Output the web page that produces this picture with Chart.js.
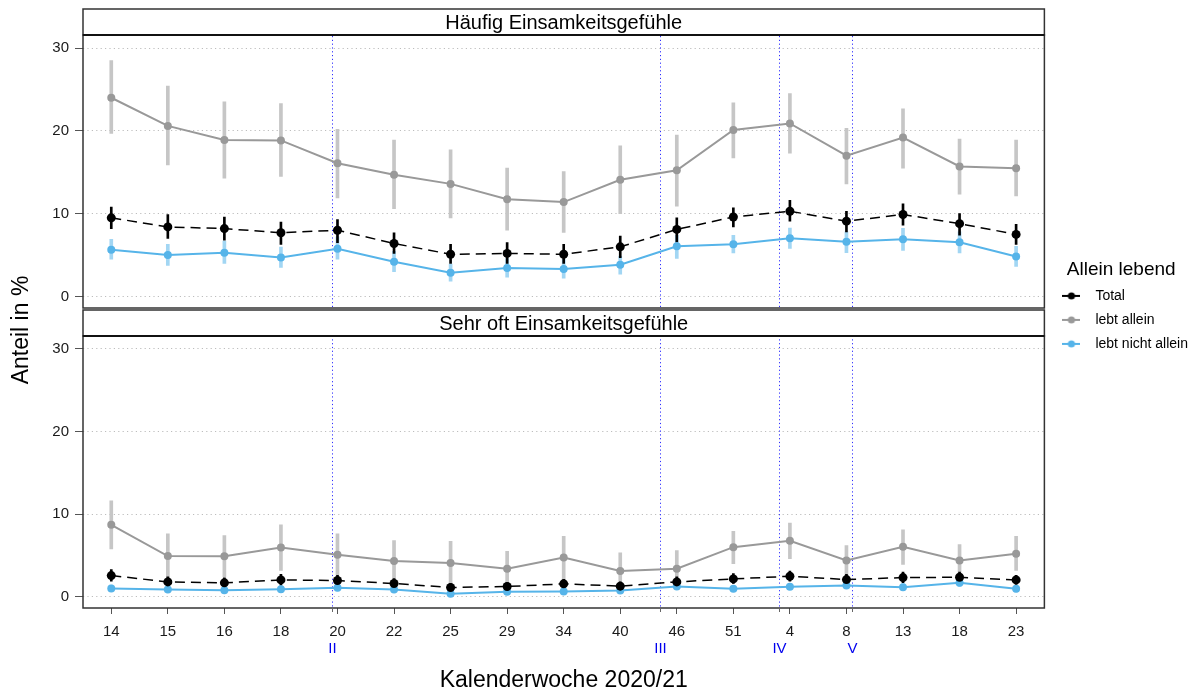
<!DOCTYPE html>
<html><head><meta charset="utf-8">
<script src="https://cdn.jsdelivr.net/npm/chart.js@4.4.1/dist/chart.umd.min.js"></script>
<style>html,body{margin:0;padding:0;background:#fff;} #wrap{position:relative;width:1201px;height:693px;}</style>
</head><body><div id="wrap"><canvas id="c" width="1201" height="693"></canvas></div>
<script>
const weeks = ['14','15','16','18','20','22','25','29','34','40','46','51','4','8','13','18','23'];
const phaseLabels = ['II','III','IV','V'];
const phasePositions = [3.91, 9.71, 11.81, 13.10];
const panelTitles = ['Häufig Einsamkeitsgefühle', 'Sehr oft Einsamkeitsgefühle'];
const seriesNames = ['Total', 'lebt allein', 'lebt nicht allein'];
const yTicks = [0, 10, 20, 30];

// Panel 1: Häufig Einsamkeitsgefühle
const oftTotal   = [9.5, 8.4, 8.2, 7.7, 8.0, 6.4, 5.1, 5.2, 5.1, 6.0, 8.1, 9.6, 10.3, 9.1, 9.9, 8.8, 7.5];
const oftTotalLo = [8.2, 7.0, 6.8, 6.3, 6.5, 5.2, 4.0, 4.0, 4.0, 4.7, 6.6, 8.4, 9.1, 7.8, 8.6, 7.4, 6.3];
const oftTotalHi = [10.8, 9.9, 9.6, 9.0, 9.3, 7.7, 6.3, 6.5, 6.3, 7.3, 9.5, 10.7, 11.6, 10.3, 11.2, 10.0, 8.7];
const oftAllein   = [24.0, 20.6, 18.9, 18.85, 16.1, 14.7, 13.6, 11.75, 11.4, 14.1, 15.25, 20.1, 20.9, 17.0, 19.2, 15.7, 15.5];
const oftAlleinLo = [19.7, 15.9, 14.3, 14.5, 11.9, 10.6, 9.5, 8.0, 7.75, 10.0, 10.9, 16.75, 17.3, 13.6, 15.5, 12.35, 12.15];
const oftAlleinHi = [28.5, 25.4, 23.5, 23.3, 20.2, 18.9, 17.7, 15.5, 15.1, 18.2, 19.5, 23.4, 24.5, 20.3, 22.65, 19.0, 18.9];
const oftNicht   = [5.65, 5.0, 5.28, 4.72, 5.77, 4.2, 2.87, 3.43, 3.31, 3.83, 6.06, 6.3, 7.03, 6.62, 6.9, 6.54, 4.84];
const oftNichtLo = [4.5, 3.75, 4.0, 3.5, 4.5, 3.0, 1.85, 2.34, 2.2, 2.7, 4.6, 5.25, 5.8, 5.3, 5.57, 5.25, 3.63];
const oftNichtHi = [6.9, 6.3, 6.7, 5.97, 7.2, 5.45, 3.9, 4.57, 4.5, 4.85, 7.4, 7.4, 8.27, 7.8, 8.24, 7.8, 6.06];

// Panel 2: Sehr oft Einsamkeitsgefühle
const sehrTotal   = [2.56, 1.8, 1.68, 2.04, 1.96, 1.6, 1.12, 1.24, 1.56, 1.28, 1.8, 2.16, 2.48, 2.08, 2.32, 2.36, 2.04];
const sehrTotalLo = [1.9, 1.2, 1.1, 1.4, 1.4, 1.1, 0.7, 0.8, 1.0, 0.8, 1.2, 1.6, 1.9, 1.5, 1.7, 1.8, 1.5];
const sehrTotalHi = [3.3, 2.4, 2.3, 2.7, 2.6, 2.2, 1.6, 1.7, 2.1, 1.8, 2.4, 2.8, 3.1, 2.7, 3.0, 3.0, 2.6];
const sehrAllein   = [8.7, 4.92, 4.9, 5.96, 5.08, 4.32, 4.08, 3.4, 4.76, 3.12, 3.4, 6.0, 6.76, 4.4, 6.04, 4.4, 5.2];
const sehrAlleinLo = [5.8, 2.3, 2.4, 3.2, 2.6, 1.9, 1.5, 1.3, 2.2, 0.9, 1.2, 4.0, 4.6, 2.6, 3.9, 2.5, 3.2];
const sehrAlleinHi = [11.6, 7.6, 7.4, 8.7, 7.6, 6.8, 6.7, 5.5, 7.3, 5.3, 5.6, 7.9, 8.9, 6.2, 8.1, 6.3, 7.3];
const sehrNicht   = [1.0, 0.88, 0.8, 0.92, 1.08, 0.88, 0.36, 0.6, 0.64, 0.76, 1.24, 0.96, 1.2, 1.36, 1.16, 1.68, 0.96];
const sehrNichtLo = [0.65, 0.55, 0.5, 0.6, 0.7, 0.55, 0.15, 0.35, 0.35, 0.45, 0.85, 0.65, 0.85, 1.0, 0.8, 1.25, 0.6];
const sehrNichtHi = [1.4, 1.25, 1.15, 1.3, 1.5, 1.25, 0.6, 0.9, 0.95, 1.1, 1.65, 1.3, 1.6, 1.75, 1.55, 2.15, 1.35];

const FONT = "'Liberation Sans', Arial, sans-serif";
const colTotal = '#000000', colAllein = '#999999', colNicht = '#56B4E9';
const seriesColors = [colTotal, colAllein, colNicht];
const STRIP = 26;

function pairs(lo, hi) { return lo.map((v, i) => [v, hi[i]]); }

function lineDs(label, data, color, axis, dash, order, r) {
  return { type: 'line', label, data, yAxisID: axis, borderColor: color, backgroundColor: color,
    borderWidth: dash ? 1.5 : 2, borderDash: dash || [], pointRadius: r, pointBackgroundColor: color,
    pointBorderWidth: 0, tension: 0, order };
}
function barDs(label, lo, hi, color, axis, thick, order) {
  return { type: 'bar', label, data: pairs(lo, hi), yAxisID: axis, backgroundColor: color,
    borderWidth: 0, barThickness: thick, grouped: false, order };
}

function makeIcon(color) {
  const cv = document.createElement('canvas'); cv.width = 18; cv.height = 10;
  const g = cv.getContext('2d');
  g.strokeStyle = color; g.lineWidth = 2; g.beginPath(); g.moveTo(0, 5); g.lineTo(18, 5); g.stroke();
  g.fillStyle = color; g.beginPath(); g.arc(9, 5, 3.6, 0, Math.PI * 2); g.fill();
  return cv;
}
const icons = seriesColors.map(makeIcon);

const panelPlugin = {
  id: 'panels',
  beforeDatasetsDraw(chart) {
    const ctx = chart.ctx, x = chart.scales.x;
    ['yTop', 'yBottom'].forEach(id => {
      const s = chart.scales[id];
      ctx.save(); ctx.strokeStyle = '#3030ff'; ctx.lineWidth = 1; ctx.setLineDash([1.2, 2.6]);
      phasePositions.forEach(p => {
        const px = Math.round(x.getPixelForValue(p)) + 0.5;
        ctx.beginPath(); ctx.moveTo(px, s.top + STRIP + 1); ctx.lineTo(px, s.bottom); ctx.stroke();
      });
      ctx.restore();
    });
  },
  afterDraw(chart) {
    const ctx = chart.ctx, ca = chart.chartArea, x = chart.scales.x;
    ['yTop', 'yBottom'].forEach((id, k) => {
      const s = chart.scales[id];
      const t = Math.round(s.top) + (k === 1 ? 1 : 0);
      ctx.save();
      ctx.fillStyle = '#fff'; ctx.fillRect(ca.left, t, ca.right - ca.left, STRIP);
      ctx.strokeStyle = '#333'; ctx.lineWidth = 1.5;
      ctx.strokeRect(ca.left, t, ca.right - ca.left, STRIP);
      ctx.strokeRect(ca.left, t + STRIP, ca.right - ca.left, Math.round(s.bottom) - (k === 0 ? 1 : 0) - t - STRIP);
      ctx.strokeStyle = '#111'; ctx.lineWidth = 2.2;
      ctx.beginPath(); ctx.moveTo(ca.left, t + STRIP); ctx.lineTo(ca.right, t + STRIP); ctx.stroke();
      ctx.fillStyle = '#000'; ctx.font = '20px ' + FONT; ctx.textAlign = 'center'; ctx.textBaseline = 'middle';
      ctx.fillText(panelTitles[k], (ca.left + ca.right) / 2, t + STRIP / 2 + 1);
      ctx.restore();
    });
    ctx.save();
    ctx.strokeStyle = '#666'; ctx.lineWidth = 1;
    phasePositions.forEach((p, i) => {
      const px = Math.round(x.getPixelForValue(p)) + 0.5;
      ctx.beginPath(); ctx.moveTo(px, ca.bottom); ctx.lineTo(px, ca.bottom + 4); ctx.stroke();
      ctx.fillStyle = '#0000ee'; ctx.font = '15px ' + FONT; ctx.textAlign = 'center'; ctx.textBaseline = 'middle';
      ctx.fillText(phaseLabels[i], px, ca.bottom + 41);
    });
    ctx.translate(22, 330); ctx.rotate(-Math.PI / 2);
    ctx.fillStyle = '#000'; ctx.font = '23px ' + FONT; ctx.textAlign = 'center'; ctx.textBaseline = 'middle';
    ctx.fillText('Anteil in %', 0, 0);
    ctx.restore();
  }
};

function yScale(min, max, weight) {
  return {
    type: 'linear', position: 'left', stack: 'panels', stackWeight: 1, weight,
    min, max,
    afterBuildTicks: s => { s.ticks = yTicks.map(v => ({ value: v })); },
    afterFit: s => { s.width = 83; s.paddingTop = 0; s.paddingBottom = 0; },
    border: { display: false, dash: [1.2, 3.2] },
    grid: { color: '#bdbdbd', lineWidth: 1, tickLength: 8, tickColor: '#555',
      tickWidth: 1, tickBorderDash: [] },
    ticks: { font: { size: 15, family: FONT }, color: '#1a1a1a', padding: 6 }
  };
}

new Chart(document.getElementById('c'), {
  type: 'line',
  data: {
    labels: weeks,
    datasets: [
      lineDs('Total', oftTotal, colTotal, 'yTop', [10, 6], 0, 4.5),
      lineDs('lebt nicht allein', oftNicht, colNicht, 'yTop', null, 1, 4),
      lineDs('lebt allein', oftAllein, colAllein, 'yTop', null, 2, 4),
      barDs('ci', oftTotalLo, oftTotalHi, '#000', 'yTop', 2, 3),
      barDs('ci', oftNichtLo, oftNichtHi, 'rgba(86,180,233,0.55)', 'yTop', 3, 4),
      barDs('ci', oftAlleinLo, oftAlleinHi, '#c6c6c6', 'yTop', 3, 5),
      lineDs('Total', sehrTotal, colTotal, 'yBottom', [10, 6], 0, 4.5),
      lineDs('lebt nicht allein', sehrNicht, colNicht, 'yBottom', null, 1, 4),
      lineDs('lebt allein', sehrAllein, colAllein, 'yBottom', null, 2, 4),
      barDs('ci', sehrTotalLo, sehrTotalHi, '#000', 'yBottom', 2, 3),
      barDs('ci', sehrNichtLo, sehrNichtHi, 'rgba(86,180,233,0.55)', 'yBottom', 3, 4),
      barDs('ci', sehrAlleinLo, sehrAlleinHi, '#c6c6c6', 'yBottom', 3, 5)
    ]
  },
  options: {
    responsive: false, animation: false, events: [],
    layout: { padding: { top: 9, right: 3, bottom: 0, left: 0 } },
    scales: {
      x: {
        type: 'category', offset: true,
        afterFit: s => { s.height = 85; s.paddingLeft = 0; s.paddingRight = 0; },
        border: { display: false },
        grid: { display: true, drawOnChartArea: false, offset: false, tickLength: 6, tickColor: '#555', tickWidth: 1 },
        ticks: { font: { size: 15, family: FONT }, color: '#1a1a1a', padding: 9, maxRotation: 0, autoSkip: false },
        title: { display: true, text: 'Kalenderwoche 2020/21', font: { size: 23, family: FONT }, color: '#000',
          padding: { top: 0, bottom: -1 } }
      },
      yTop: yScale(-1.45, 34.72, 1),
      yBottom: yScale(-1.36, 34.87, 0)
    },
    plugins: {
      tooltip: { enabled: false },
      legend: {
        position: 'right', fullSize: false, align: 'center',
        title: { display: true, text: 'Allein lebend', font: { size: 19, family: FONT }, color: '#000',
          padding: { top: 4, bottom: -4 } },
        labels: {
          usePointStyle: true, pointStyleWidth: 34, padding: 10,
          font: { size: 14, family: FONT }, color: '#000',
          generateLabels: () => seriesNames.map((n, i) => ({ text: n, pointStyle: icons[i], fillStyle: seriesColors[i],
            strokeStyle: seriesColors[i], lineWidth: 0, hidden: false, fontColor: '#000' }))
        }
      }
    }
  },
  plugins: [panelPlugin]
});
</script></body></html>
